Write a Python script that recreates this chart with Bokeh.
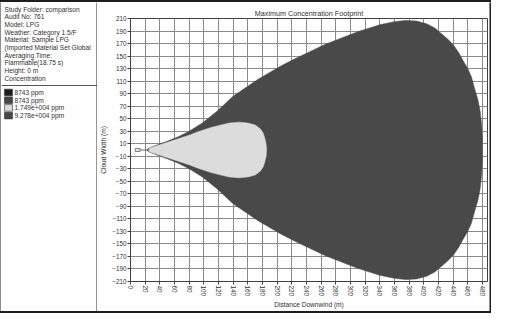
from bokeh.plotting import figure
from bokeh.layouts import row, column
from bokeh.models import Range1d, FixedTicker, Spacer
from bokeh.core.properties import value
from bokeh.embed import file_html
from bokeh.resources import INLINE

# ---------------- data ----------------
info_lines = [
    "Study Folder: comparison",
    "Audit No: 761",
    "Model: LPG",
    "Weather: Category 1.5/F",
    "Material: Sample LPG",
    "(Imported Material Set Global",
    "Averaging Time:",
    "Flammable(18.75 s)",
    "Height: 0 m",
    "Concentration",
]
legend_labels = ["8743 ppm", "8743 ppm", "1.749e+004 ppm", "9.278e+004 ppm"]
legend_colors = ["#1c1c1c", "#474747", "#dcdcdc", "#474747"]

x_ticks = list(range(0, 481, 20))
y_ticks = list(range(-210, 211, 20))

# upper half of the outer footprint (9.278e+004 ppm), tip -> far end
outer_x = [22, 25, 37, 50, 65, 80, 98, 118, 140, 174, 205, 223, 266, 310, 340,
           360, 375, 390, 404, 415, 423, 433, 441, 448, 454, 460, 465, 469, 474,
           477, 479, 480, 480]
outer_y = [0, 3, 8.5, 14, 21, 30, 43, 62, 86, 113, 134, 145, 169, 189, 200,
           205, 207, 206, 201.5, 195, 187, 177, 167, 155, 142, 130, 117, 100, 80,
           62, 40, 17, 0]

# upper half of the inner footprint (1.749e+004 ppm)
inner_x = [24, 26, 37, 60, 81, 92, 110, 125, 135, 148, 160, 170, 177, 181, 183, 185, 185.6]
inner_y = [0, 3, 7, 16, 24, 29, 36, 40.5, 43, 44.5, 43, 40, 34, 27, 20, 10, 0]

# source marker
source_box_x = [6.5, 13]
source_box_y = [-2.5, 2.5]
source_line_x = [13, 26]

FONT = "Liberation Sans"
TXT = "#303030"
BORDER = "#1e1e1e"
TOT_W = 491
TOP_B, BOT_B, LEFT_B, RIGHT_B = 2, 2, 1, 2
H = 313 - TOP_B - BOT_B
LW = 96
RW = TOT_W - LEFT_B - LW - RIGHT_B


def no_align(fig):
    if "frame_align" in fig.properties():
        fig.frame_align = False


def vstrip(w, h):
    s = figure(width=w, height=h, output_backend="svg", toolbar_location=None,
               min_border=0, x_axis_location=None, y_axis_location=None, title=None)
    s.grid.visible = False
    s.outline_line_color = None
    s.background_fill_color = BORDER
    s.border_fill_color = BORDER
    no_align(s)
    return s


def hstrip(w, h):
    return Spacer(width=w, height=h, styles={"background-color": BORDER})


# ---------------- left info / legend panel ----------------
left = figure(width=LW, height=H, x_range=Range1d(0, LW), y_range=Range1d(H, 0),
              output_backend="svg", toolbar_location=None, min_border=0,
              x_axis_location=None, y_axis_location=None, title=None)
left.grid.visible = False
left.outline_line_color = None
no_align(left)

n = len(info_lines)
left.text(x=[3] * n, y=[6.5 + 7.7 * i for i in range(n)], text=info_lines,
          text_font=value(FONT), text_font_size="6.6px", text_baseline="middle",
          text_color=TXT)
left.segment(x0=[0], y0=[83], x1=[LW], y1=[83], line_color="#555555", line_width=1)
left.segment(x0=[LW - 0.5], y0=[0], x1=[LW - 0.5], y1=[H], line_color="#2a2a2a", line_width=1)

m = len(legend_labels)
ly = [90 + 7.7 * i for i in range(m)]
left.rect(x=[7] * m, y=ly, width=8, height=6.6, fill_color=legend_colors,
          line_color="#303030", line_width=0.6)
left.text(x=[13] * m, y=ly, text=legend_labels, text_font=value(FONT),
          text_font_size="6.6px", text_baseline="middle", text_color=TXT)

# ---------------- main plot ----------------
p = figure(width=RW, height=H, x_range=Range1d(0, 487), y_range=Range1d(-210, 210),
           output_backend="svg", toolbar_location=None,
           min_border_left=29, min_border_right=2, min_border_top=16, min_border_bottom=28,
           title="Maximum Concentration Footprint")
no_align(p)
p.title.align = "center"
p.title.text_font = FONT
p.title.text_font_size = "7.2px"
p.title.text_font_style = "normal"
p.title.text_color = TXT
p.title.standoff = 2
p.title.offset = 0

p.outline_line_color = "#404040"
p.outline_line_width = 1

p.xaxis.ticker = FixedTicker(ticks=x_ticks)
p.yaxis.ticker = FixedTicker(ticks=y_ticks)
p.xaxis.major_label_orientation = "vertical"
for ax in (p.xaxis, p.yaxis):
    ax.major_label_text_font = FONT
    ax.major_label_text_font_size = "6.3px"
    ax.major_label_text_color = TXT
    ax.axis_label_text_font = FONT
    ax.axis_label_text_font_size = "6.6px"
    ax.axis_label_text_font_style = "normal"
    ax.axis_label_text_color = TXT
    ax.axis_line_color = "#404040"
    ax.major_tick_line_color = "#404040"
    ax.major_tick_out = 3
    ax.major_tick_in = 0
    ax.minor_tick_line_color = None
    ax.major_label_standoff = 1
    ax.axis_label_standoff = 2
p.xaxis.axis_label = "Distance Downwind (m)"
p.yaxis.axis_label = "Cloud Width (m)"

p.xgrid.ticker = FixedTicker(ticks=x_ticks)
p.ygrid.ticker = FixedTicker(ticks=y_ticks)
p.grid.grid_line_color = "#8a8a8a"
p.grid.grid_line_width = 1

ox = outer_x + outer_x[::-1]
oy = outer_y + [-v for v in outer_y[::-1]]
p.patch(ox, oy, fill_color="#494949", line_color="#494949", line_width=0.5)

ix = inner_x + inner_x[::-1]
iy = inner_y + [-v for v in inner_y[::-1]]
p.patch(ix, iy, fill_color="#dcdcdc", line_color="#dcdcdc", line_width=0.5)

p.quad(left=[source_box_x[0]], right=[source_box_x[1]], bottom=[source_box_y[0]],
       top=[source_box_y[1]], fill_color="#e4e4e4", line_color="#606060", line_width=0.8)
p.segment(x0=[source_line_x[0]], y0=[0], x1=[source_line_x[1]], y1=[0],
          line_color="#707070", line_width=1)

layout = column(
    hstrip(TOT_W, TOP_B),
    row(vstrip(LEFT_B, H), left, p, vstrip(RIGHT_B, H), spacing=0),
    hstrip(TOT_W, BOT_B),
    spacing=0,
)

open("out.html", "w").write(file_html(layout, INLINE))
